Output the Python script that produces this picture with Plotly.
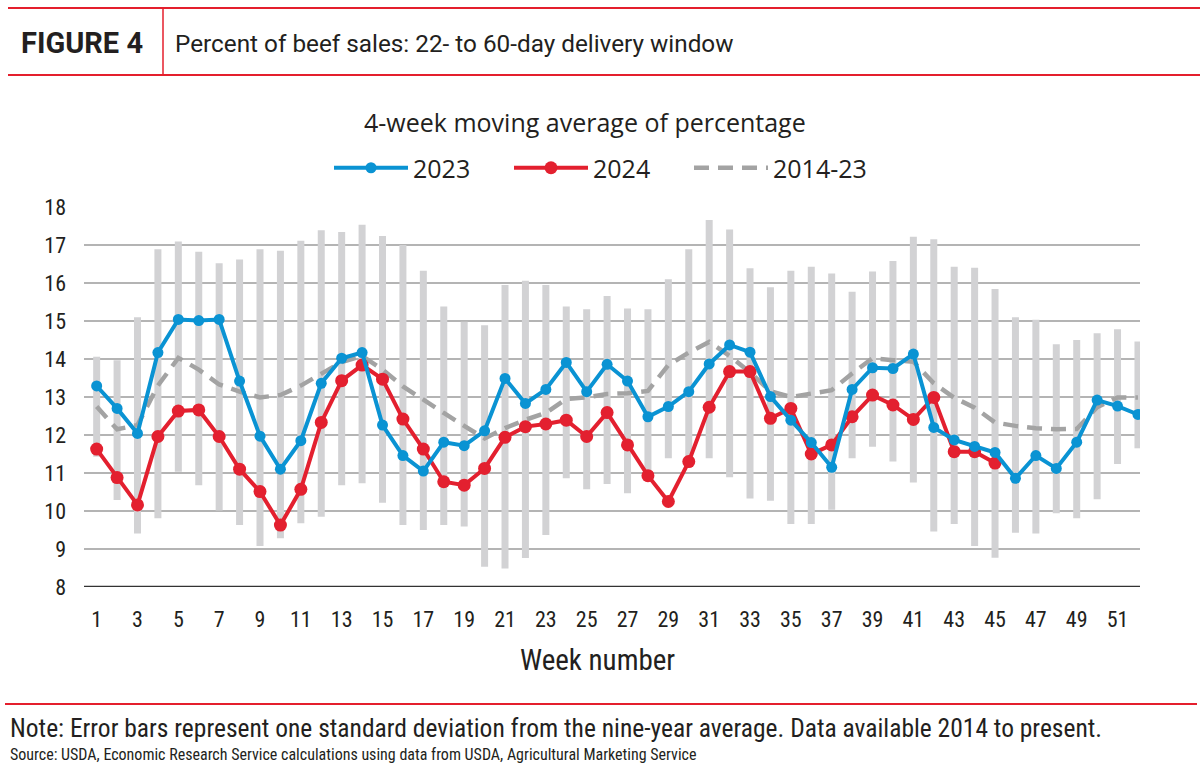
import plotly.graph_objects as go

weeks = list(range(1, 53))
tick_weeks = list(range(1, 52, 2))

avg_2014_23 = [12.75, 12.15, 12.26, 13.30, 14.03, 13.72, 13.33, 13.14, 12.99, 13.05,
               13.30, 13.60, 13.92, 14.08, 13.72, 13.28, 12.92, 12.58, 12.24, 11.91,
               12.18, 12.40, 12.58, 12.95, 12.99, 13.08, 13.10, 13.16, 13.84, 14.17,
               14.45, 14.08, 13.65, 13.15, 13.00, 13.08, 13.18, 13.62, 14.02, 13.97,
               13.93, 13.36, 12.98, 12.72, 12.33, 12.24, 12.18, 12.15, 12.16, 12.73,
               12.99, 12.99]
bar_top = [14.06, 13.97, 15.10, 16.89, 17.09, 16.82, 16.52, 16.62, 16.89, 16.85,
           17.11, 17.39, 17.34, 17.53, 17.24, 17.00, 16.32, 15.38, 14.98, 14.89,
           15.95, 16.06, 15.95, 15.38, 15.31, 15.66, 15.33, 15.31, 16.10, 16.89,
           17.66, 17.41, 16.39, 15.89, 16.32, 16.43, 16.25, 15.77, 16.30, 16.58,
           17.22, 17.15, 16.43, 16.40, 15.84, 15.10, 15.03, 14.39, 14.50, 14.68,
           14.78, 14.46]
bar_bottom = [11.43, 10.29, 9.41, 9.81, 11.03, 10.68, 10.01, 9.63, 9.08, 9.28,
              9.68, 9.85, 10.68, 10.73, 10.22, 9.63, 9.50, 9.63, 9.59, 8.53,
              8.49, 8.76, 9.37, 10.86, 10.57, 10.71, 10.47, 10.90, 11.39, 11.39,
              11.39, 10.89, 10.33, 10.27, 9.66, 9.66, 10.03, 11.39, 11.69, 11.30,
              10.75, 9.46, 9.66, 9.08, 8.77, 9.43, 9.41, 9.94, 9.81, 10.31,
              11.24, 11.65]
y2023 = [13.29, 12.70, 12.04, 14.17, 15.04, 15.01, 15.04, 13.42, 11.97, 11.10,
         11.85, 13.36, 14.02, 14.17, 12.26, 11.46, 11.05, 11.81, 11.72, 12.11,
         13.49, 12.83, 13.20, 13.91, 13.14, 13.86, 13.42, 12.48, 12.75, 13.14,
         13.87, 14.37, 14.18, 13.01, 12.39, 11.80, 11.15, 13.20, 13.77, 13.75,
         14.13, 12.20, 11.87, 11.70, 11.54, 10.86, 11.46, 11.12, 11.81, 12.92,
         12.76, 12.54]
y2024 = [11.63, 10.88, 10.16, 11.96, 12.63, 12.66, 11.96, 11.10, 10.51, 9.63,
         10.57, 12.33, 13.43, 13.84, 13.47, 12.42, 11.63, 10.77, 10.68, 11.12,
         11.94, 12.22, 12.29, 12.39, 11.96, 12.59, 11.74, 10.93, 10.25, 11.30,
         12.73, 13.67, 13.67, 12.44, 12.70, 11.50, 11.74, 12.48, 13.05, 12.79,
         12.41, 12.99, 11.56, 11.56, 11.26]

BLUE = "#0a93d3"
RED = "#e3202f"
GRAY_DASH = "#a3a3a3"
BAR_GRAY = "#d2d2d4"
HEADER_RED = "#e41f2d"

W, H = 1200, 783
ML, MR, MT, MB = 84, 60, 207, 196
PW, PH = W - ML - MR, H - MT - MB


def px(x):
    return (x - ML) / PW


def py(y):
    return (H - MB - y) / PH


narrow = "Liberation Sans Narrow, Arial Narrow, Roboto Condensed, sans-serif"

fig = go.Figure()

# error bars (one standard deviation band)
fig.add_trace(go.Scatter(
    x=weeks, y=avg_2014_23, mode="markers",
    marker=dict(size=0.1, color="rgba(0,0,0,0)"),
    error_y=dict(type="data", symmetric=False,
                 array=[t - a for t, a in zip(bar_top, avg_2014_23)],
                 arrayminus=[a - b for a, b in zip(avg_2014_23, bar_bottom)],
                 color=BAR_GRAY, thickness=7, width=0),
    showlegend=False, hoverinfo="skip"))

fig.add_trace(go.Scatter(
    x=weeks, y=avg_2014_23, mode="lines", name="2014-23",
    line=dict(color=GRAY_DASH, width=4.5, dash="15px,9px"), legendrank=3))

fig.add_trace(go.Scatter(
    x=weeks[:len(y2024)], y=y2024, mode="lines+markers", name="2024",
    line=dict(color=RED, width=4), marker=dict(size=13, color=RED), legendrank=2))

fig.add_trace(go.Scatter(
    x=weeks, y=y2023, mode="lines+markers", name="2023",
    line=dict(color=BLUE, width=4), marker=dict(size=11, color=BLUE), legendrank=1))

fig.update_layout(
    width=W, height=H,
    margin=dict(l=ML, r=MR, t=MT, b=MB),
    paper_bgcolor="white", plot_bgcolor="white",
    font=dict(family=narrow, color="#231f20"),
    showlegend=True,
    legend=dict(orientation="h", x=px(329), xanchor="left", y=py(168), yanchor="middle",
                font=dict(family="Open Sans, sans-serif", size=25, color="#231f20"),
                entrywidth=91, entrywidthmode="pixels", bgcolor="rgba(0,0,0,0)",
                traceorder="normal", itemwidth=74),
    xaxis=dict(range=[0.38, 52.1], tickmode="array", tickvals=tick_weeks,
               ticktext=[str(t) for t in tick_weeks], showgrid=False, zeroline=False,
               showline=False, ticks="", tickfont=dict(size=22, family=narrow),
               ticklabelstandoff=17),
    yaxis=dict(range=[8, 18], tickvals=list(range(8, 19)), showgrid=True,
               gridcolor="#b4b4b4", gridwidth=2, zeroline=False, showline=False,
               ticks="", tickfont=dict(size=22, family=narrow), ticklabelstandoff=17),
)

# axis baseline at 8
fig.add_shape(type="line", xref="paper", yref="y", x0=0, x1=1, y0=8, y1=8,
              line=dict(color="#333333", width=2.5))

# header rules
for yy in (8, 75):
    fig.add_shape(type="line", xref="paper", yref="paper", x0=px(8), x1=px(1200),
                  y0=py(yy), y1=py(yy), line=dict(color=HEADER_RED, width=2))
fig.add_shape(type="line", xref="paper", yref="paper", x0=px(163), x1=px(163),
              y0=py(8), y1=py(75), line=dict(color=HEADER_RED, width=1.5))
fig.add_shape(type="line", xref="paper", yref="paper", x0=px(5), x1=px(1197),
              y0=py(704), y1=py(704), line=dict(color=HEADER_RED, width=2))

ann = [
    dict(text="<b>FIGURE 4</b>", x=px(19), y=py(43), xanchor="left", yanchor="middle",
         font=dict(family="Roboto, sans-serif", size=29, color="#231f20")),
    dict(text="Percent of beef sales: 22- to 60-day delivery window", x=px(173), y=py(43),
         xanchor="left", yanchor="middle",
         font=dict(family="Roboto, sans-serif", size=24.3, color="#231f20")),
    dict(text="4-week moving average of percentage", x=px(585), y=py(122),
         xanchor="center", yanchor="middle",
         font=dict(family="Open Sans, sans-serif", size=25, color="#231f20")),
    dict(text="Week number", x=px(597), y=py(660), xanchor="center", yanchor="middle",
         font=dict(family=narrow, size=29, color="#231f20")),
    dict(text="Note: Error bars represent one standard deviation from the nine-year average. Data available 2014 to present.",
         x=px(8), y=py(728), xanchor="left", yanchor="middle",
         font=dict(family=narrow, size=25.5, color="#231f20")),
    dict(text="Source: USDA, Economic Research Service calculations using data from USDA, Agricultural Marketing Service",
         x=px(8), y=py(754), xanchor="left", yanchor="middle",
         font=dict(family=narrow, size=16, color="#231f20")),
]
for a in ann:
    fig.add_annotation(xref="paper", yref="paper", showarrow=False, **a)

fig.write_html("out.html", config={"displayModeBar": False},
               post_script="document.body.style.margin='0';")
